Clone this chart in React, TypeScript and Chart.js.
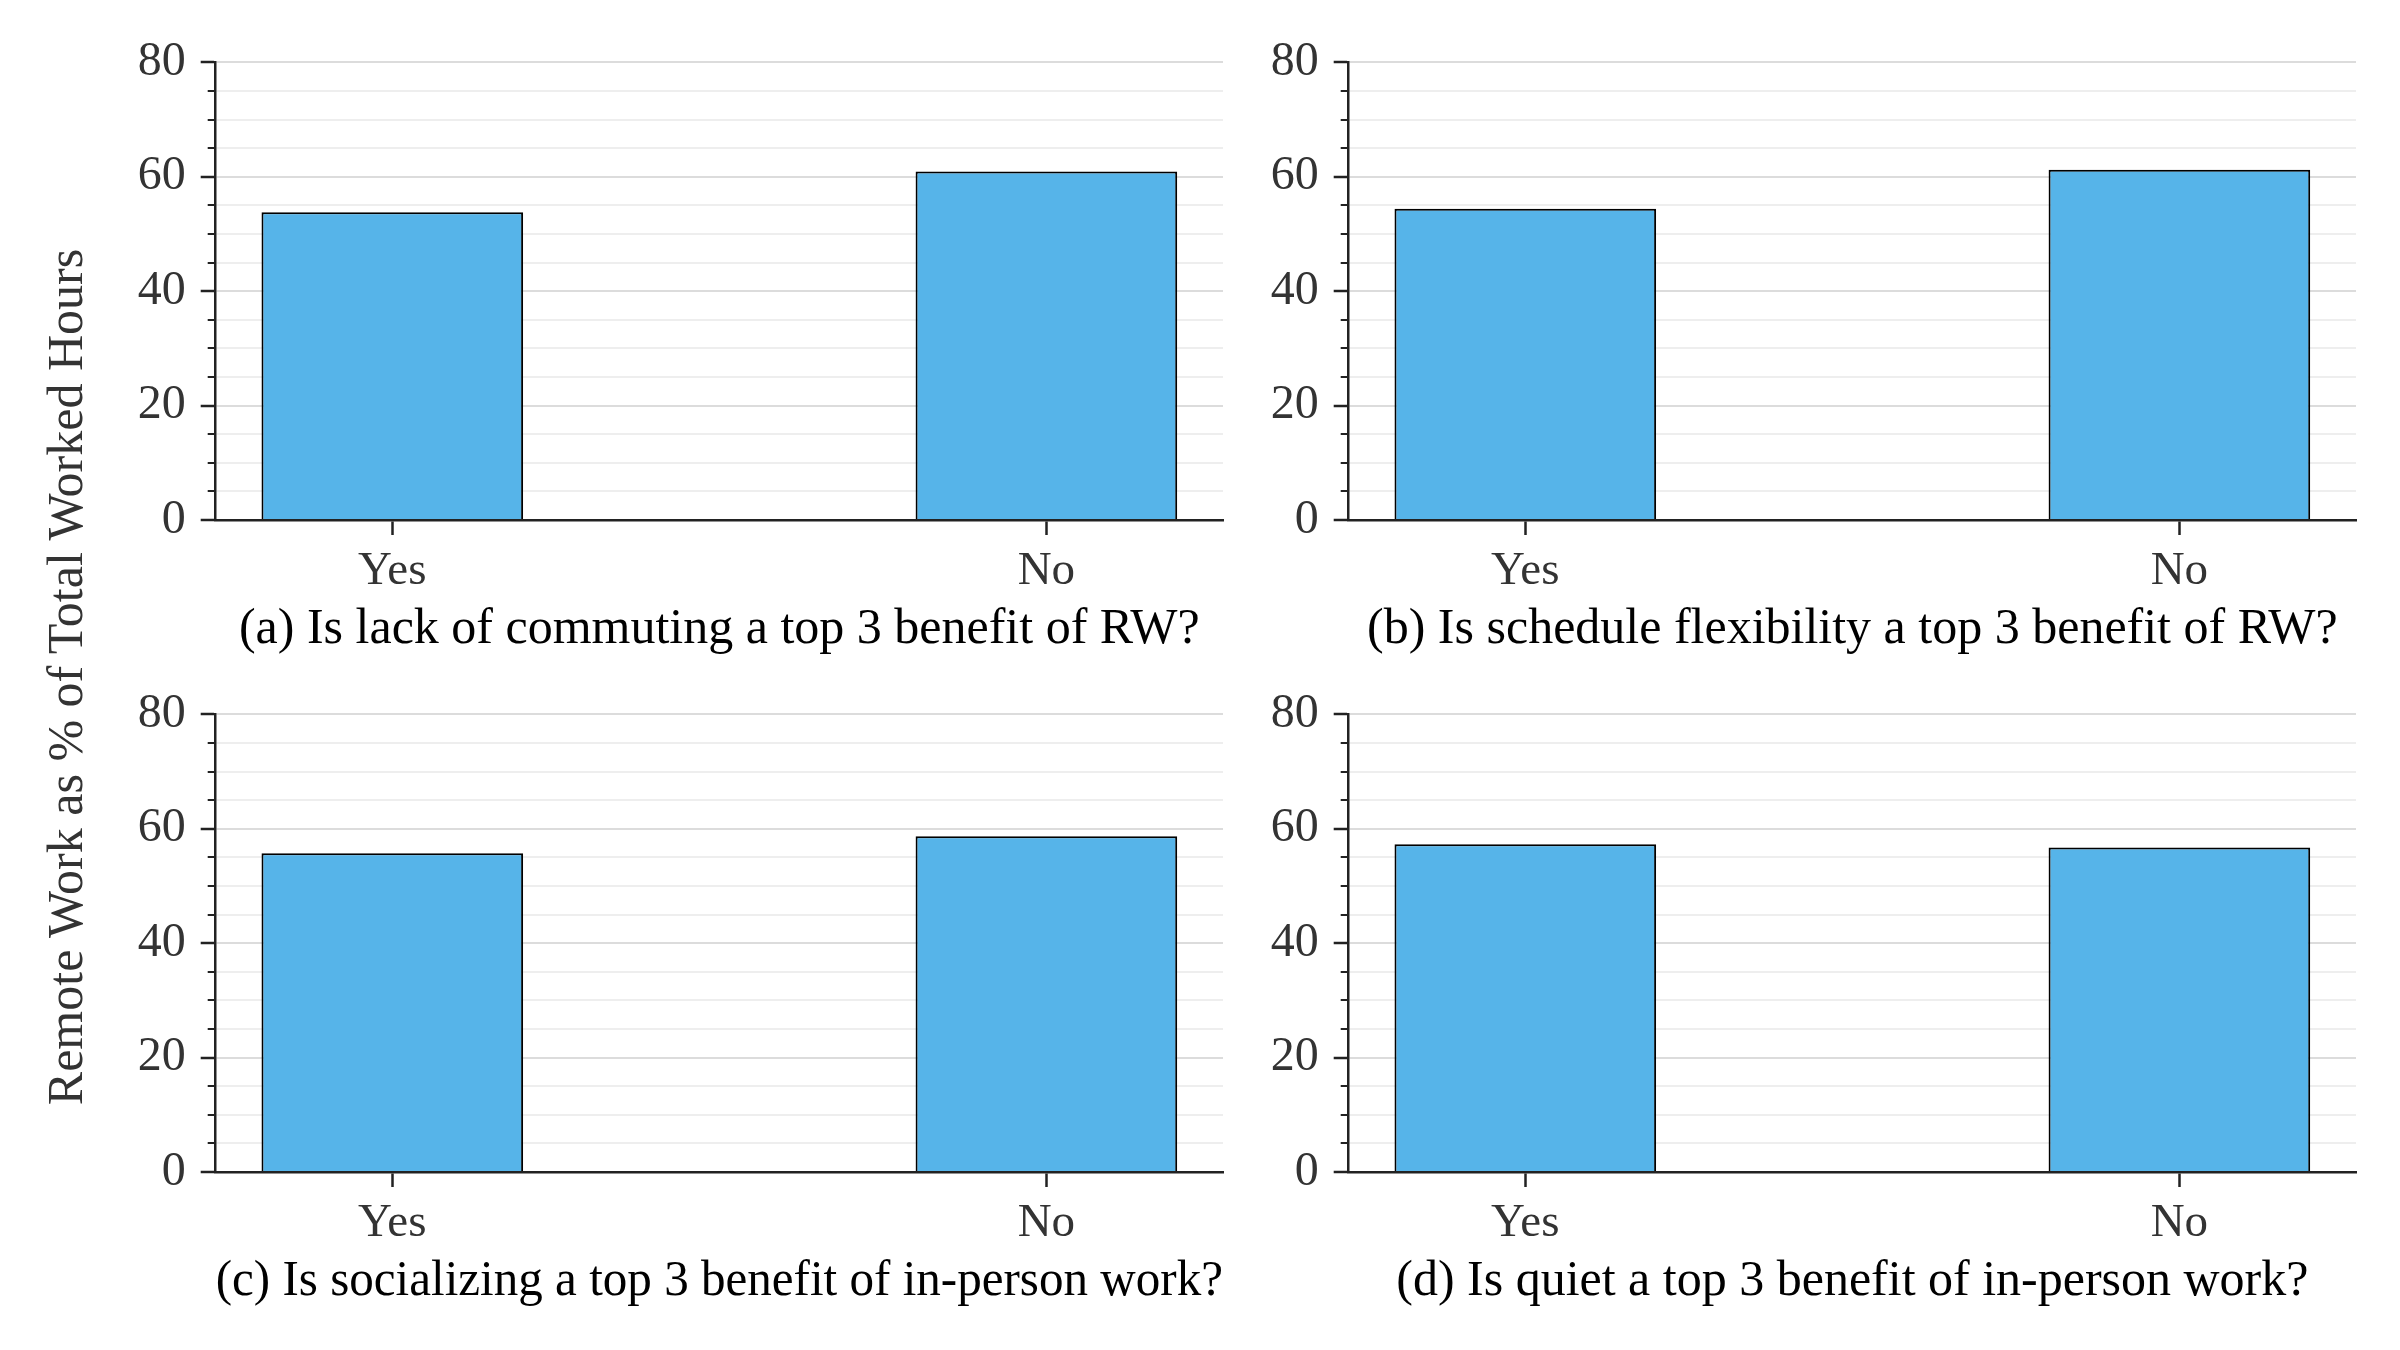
import { useEffect, useRef } from "react";
import { Chart, registerables } from "chart.js";

Chart.register(...registerables);

const categories = ["Yes", "No"];
const commutingValues = [53.8, 60.9];
const flexibilityValues = [54.4, 61.2];
const socializingValues = [55.7, 58.7];
const quietValues = [57.3, 56.7];
const panelTitles = [
  "(a) Is lack of commuting a top 3 benefit of RW?",
  "(b) Is schedule flexibility a top 3 benefit of RW?",
  "(c) Is socializing a top 3 benefit of in-person work?",
  "(d) Is quiet a top 3 benefit of in-person work?",
];
const yMax = 80;
const yMajorStep = 20;
const yMinorStep = 5;
const yAxisTitle = "Remote Work as % of Total Worked Hours";

const FONT = "'Liberation Serif', 'Times New Roman', serif";
const BAR_COLOR = "#56B4E9";

// matplotlib-like minor ticks on the y axis (shorter than the major ones)
const minorTicks = {
  id: "minorTicks",
  afterDraw(chart) {
    const y = chart.scales.y;
    const ctx = chart.ctx;
    ctx.save();
    ctx.strokeStyle = "#222";
    ctx.lineWidth = 2;
    y.ticks.forEach((t) => {
      if (t.value % yMajorStep === 0) return;
      const py = Math.round(y.getPixelForValue(t.value));
      ctx.beginPath();
      ctx.moveTo(y.right - 8, py);
      ctx.lineTo(y.right, py);
      ctx.stroke();
    });
    ctx.restore();
  },
};

function Panel({ values, title, left, top }) {
  const canvasRef = useRef(null);
  const chartRef = useRef(null);

  useEffect(() => {
    const ctx = canvasRef.current.getContext("2d");
    if (chartRef.current) chartRef.current.destroy();

    chartRef.current = new Chart(ctx, {
      type: "bar",
      data: {
        datasets: [
          {
            data: categories.map((c, i) => ({ x: i, y: values[i] })),
            backgroundColor: BAR_COLOR,
            borderColor: "#000",
            borderWidth: 2,
            borderSkipped: "start",
            categoryPercentage: 1,
            barPercentage: 0.4,
          },
        ],
      },
      options: {
        animation: false,
        responsive: true,
        maintainAspectRatio: false,
        layout: { padding: { top: 62.3, right: 7, bottom: 0, left: 0 } },
        plugins: { legend: { display: false }, tooltip: { enabled: false } },
        scales: {
          x: {
            type: "linear",
            min: -0.27,
            max: 1.27,
            offset: false,
            afterBuildTicks: (scale) => {
              scale.ticks = categories.map((_, i) => ({ value: i }));
            },
            afterFit: (scale) => {
              scale.height = 155;
            },
            ticks: {
              callback: (v) => categories[v],
              font: { family: FONT, size: 47 },
              color: "#333",
              padding: 8.5,
              maxRotation: 0,
              autoSkip: false,
            },
            grid: {
              offset: false,
              drawOnChartArea: false,
              drawTicks: true,
              tickLength: 15,
              tickColor: "#222",
              tickWidth: 2.5,
            },
            border: { display: true, color: "#222", width: 2.5 },
            title: {
              display: true,
              text: title,
              font: { family: FONT, size: 50 },
              color: "#000",
              padding: { top: 0, bottom: 14.7 },
            },
          },
          y: {
            min: 0,
            max: yMax,
            afterFit: (scale) => {
              scale.width = 115.7;
            },
            ticks: {
              stepSize: yMinorStep,
              autoSkip: false,
              callback: (v) => (v % yMajorStep === 0 ? String(v) : ""),
              font: { family: FONT, size: 48 },
              color: "#333",
              padding: 15,
            },
            grid: {
              color: (c) => (c.tick && c.tick.value % yMajorStep === 0 ? "#dcdcdc" : "#eeeeee"),
              lineWidth: 2,
              tickLength: 15,
              tickWidth: 2.5,
              tickColor: (c) =>
                c.tick && c.tick.value % yMajorStep === 0 ? "#222" : "rgba(0,0,0,0)",
            },
            border: { display: true, color: "#222", width: 2.5 },
          },
        },
      },
      plugins: [minorTicks],
    });

    return () => chartRef.current?.destroy();
  }, [values, title]);

  return (
    <div style={{ position: "absolute", left, top, width: 1130, height: 675 }}>
      <canvas ref={canvasRef}></canvas>
    </div>
  );
}

export default function App() {
  return (
    <div
      style={{
        position: "absolute",
        left: 0,
        top: 0,
        width: 2400,
        height: 1350,
        background: "#fff",
        overflow: "hidden",
      }}
    >
      <Panel values={commutingValues} title={panelTitles[0]} left={100} top={0} />
      <Panel values={flexibilityValues} title={panelTitles[1]} left={1232.6} top={0} />
      <Panel values={socializingValues} title={panelTitles[2]} left={100} top={652.3} />
      <Panel values={quietValues} title={panelTitles[3]} left={1232.6} top={652.3} />
      <div
        style={{
          position: "absolute",
          left: 65,
          top: 677,
          transform: "translate(-50%, -50%) rotate(-90deg)",
          whiteSpace: "nowrap",
          fontFamily: FONT,
          fontSize: 50,
          color: "#333",
          lineHeight: 1,
        }}
      >
        {yAxisTitle}
      </div>
    </div>
  );
}
